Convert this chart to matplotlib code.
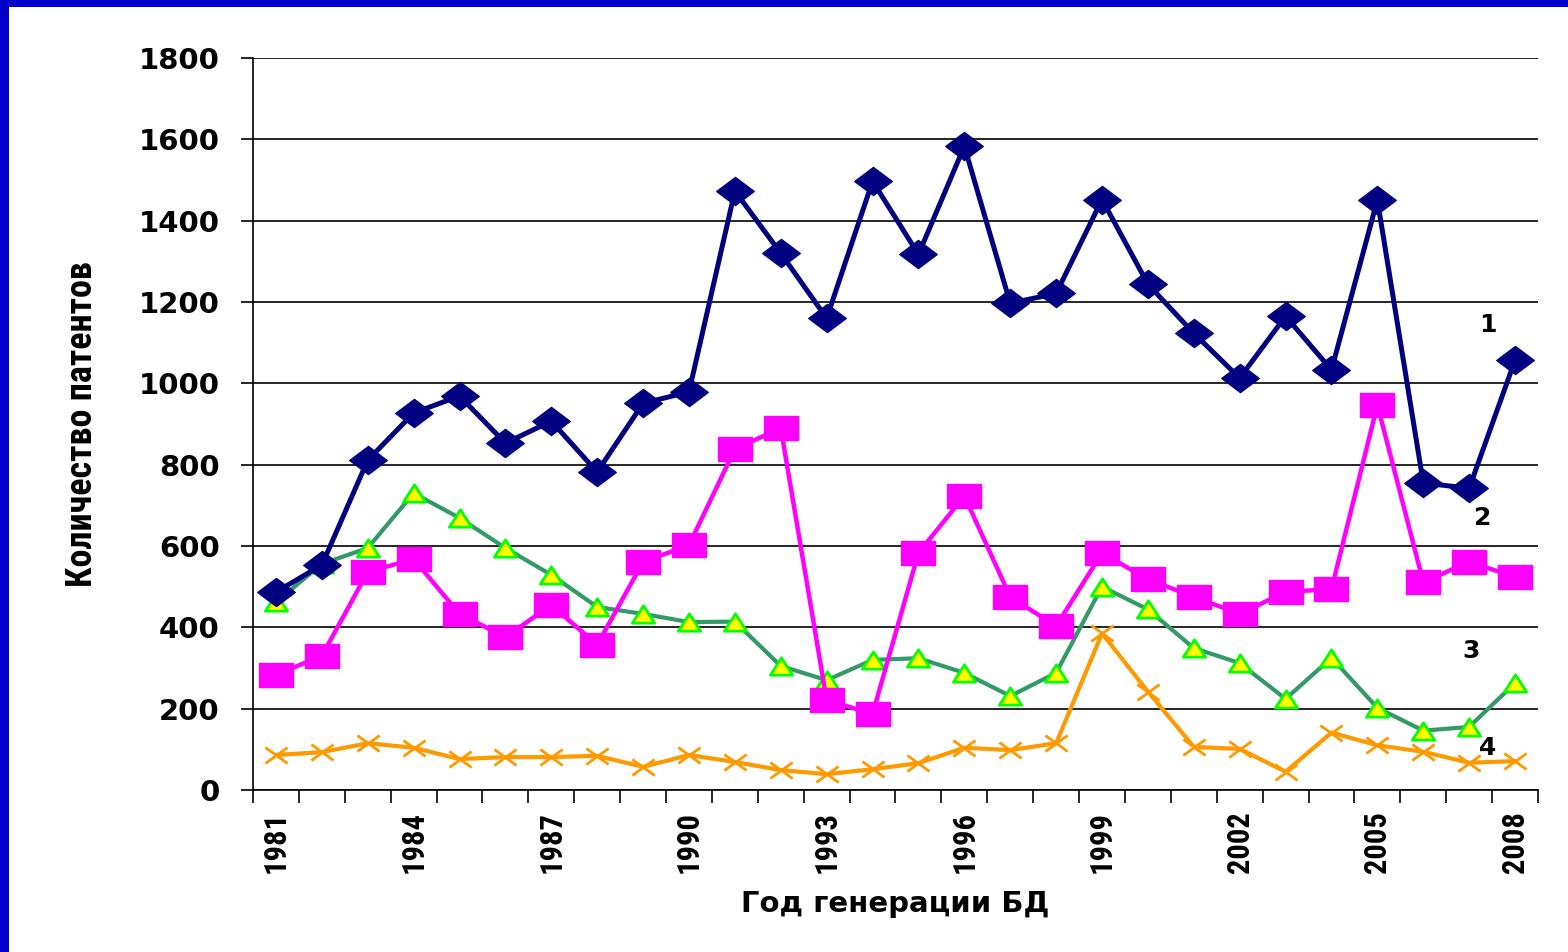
import numpy as np
import matplotlib
matplotlib.use("Agg")
import matplotlib.pyplot as plt
from matplotlib.path import Path
from matplotlib.patches import Rectangle
from matplotlib import font_manager

years = list(range(1981, 2009))
shown_years = [1981, 1984, 1987, 1990, 1993, 1996, 1999, 2002, 2005, 2008]

series1 = [487, 553, 811, 927, 969, 853, 907, 782, 951, 979,
           1473, 1320, 1160, 1497, 1317, 1583, 1197, 1221, 1452, 1244,
           1123, 1013, 1165, 1033, 1451, 755, 742, 1057]
series2 = [283, 330, 536, 568, 433, 376, 455, 357, 561, 602,
           838, 890, 221, 187, 583, 723, 475, 403, 583, 518,
           475, 433, 487, 494, 947, 511, 561, 524]
series3 = [462, 556, 595, 730, 669, 595, 529, 450, 433, 413,
           414, 305, 270, 320, 324, 288, 231, 288, 500, 444,
           349, 312, 224, 325, 202, 146, 155, 263]
series4 = [86, 93, 115, 104, 76, 81, 81, 84, 57, 86,
           69, 49, 39, 51, 66, 104, 98, 115, 385, 242,
           106, 101, 45, 141, 110, 94, 67, 71]

curve_labels = ["1", "2", "3", "4"]
label_pos = [(26.4, 1143), (26.3, 669), (26.05, 342), (26.4, 103)]

# pick a condensed face if one is installed
installed = {f.name for f in font_manager.fontManager.ttflist}
narrow = [f for f in ["Liberation Sans Narrow", "DejaVu Sans Condensed",
                      "Roboto Condensed", "Open Sans Condensed"] if f in installed]
narrow = narrow[:1] + ["DejaVu Sans"]

# flattened markers, like the stretched Excel picture
diamond = Path([(-1, 0), (0, 0.75), (1, 0), (0, -0.75), (-1, 0)],
               [Path.MOVETO, Path.LINETO, Path.LINETO, Path.LINETO, Path.CLOSEPOLY])
square = Path([(-1, -0.72), (1, -0.72), (1, 0.72), (-1, 0.72), (-1, -0.72)],
              [Path.MOVETO, Path.LINETO, Path.LINETO, Path.LINETO, Path.CLOSEPOLY])
triangle = Path([(-1, -0.78), (1, -0.78), (0, 0.78), (-1, -0.78)],
                [Path.MOVETO, Path.LINETO, Path.LINETO, Path.CLOSEPOLY])
cross = Path([(-1, -0.72), (1, 0.72), (-1, 0.72), (1, -0.72)],
             [Path.MOVETO, Path.LINETO, Path.MOVETO, Path.LINETO])

fig = plt.figure(figsize=(15.68, 9.52), dpi=100)
fig.patch.set_facecolor("white")
fig.patches.append(Rectangle((0, 0), 9 / 1568, 1, transform=fig.transFigure,
                             facecolor="#0000CC", edgecolor="none"))
fig.patches.append(Rectangle((0, 1 - 7 / 952), 1, 7 / 952, transform=fig.transFigure,
                             facecolor="#0000CC", edgecolor="none"))

ax = fig.add_axes([253 / 1568, (952 - 790) / 952, 1285 / 1568, 732 / 952])
x = np.arange(len(years))

ax.plot(x, series4, color="#FF9900", lw=3, marker=cross, ms=16,
        mec="#FF9900", mew=2, zorder=3)
ax.plot(x, series3, color="#339966", lw=3, marker=triangle, ms=16,
        mfc="#FFFF00", mec="#00FF00", mew=2, zorder=4)
ax.plot(x, series2, color="#FF00FF", lw=3.2, marker=square, ms=24,
        mfc="#FF00FF", mec="#FF00FF", zorder=5)
ax.plot(x, series1, color="#000080", lw=3.6, marker=diamond, ms=27,
        mfc="#000080", mec="#000080", zorder=6)

for lab, (lx, ly) in zip(curve_labels, label_pos):
    ax.text(lx, ly, lab, fontsize=18, fontweight="bold", ha="center", va="center",
            family="DejaVu Sans", zorder=7)

ax.set_xlim(-0.5, len(years) - 0.5)
ax.set_ylim(0, 1800)
ax.set_yticks(np.arange(0, 1801, 200))
ax.yaxis.grid(True, color="black", lw=1.2)
ax.set_axisbelow(True)

# category axis: tick marks between categories, labels centred on categories
ax.set_xticks(np.arange(-0.5, len(years)), minor=False)
ax.set_xticklabels([])
ax.set_xticks([years.index(y) for y in shown_years], minor=True)
ax.set_xticklabels([str(y) for y in shown_years], minor=True, rotation=90,
                   fontsize=22, fontweight="bold", family=narrow)
ax.tick_params(axis="x", which="major", length=9, width=1.2, direction="out")
ax.tick_params(axis="x", which="minor", length=0, pad=15)
ax.tick_params(axis="y", length=9, width=1.2, direction="out", pad=15)
for t in ax.get_yticklabels():
    t.set_fontsize(21)
    t.set_fontweight("bold")
    t.set_family("DejaVu Sans")

for s in ["top", "right"]:
    ax.spines[s].set_visible(False)
ax.spines["left"].set_linewidth(1.2)
ax.spines["bottom"].set_linewidth(1.2)

ax.set_xlabel("Год генерации БД", fontsize=21, fontweight="bold",
              family="DejaVu Sans", labelpad=12)
ax.set_ylabel("Количество патентов", fontsize=26, fontweight="bold",
              family=narrow, labelpad=28)

fig.savefig("out.png", dpi=100)
